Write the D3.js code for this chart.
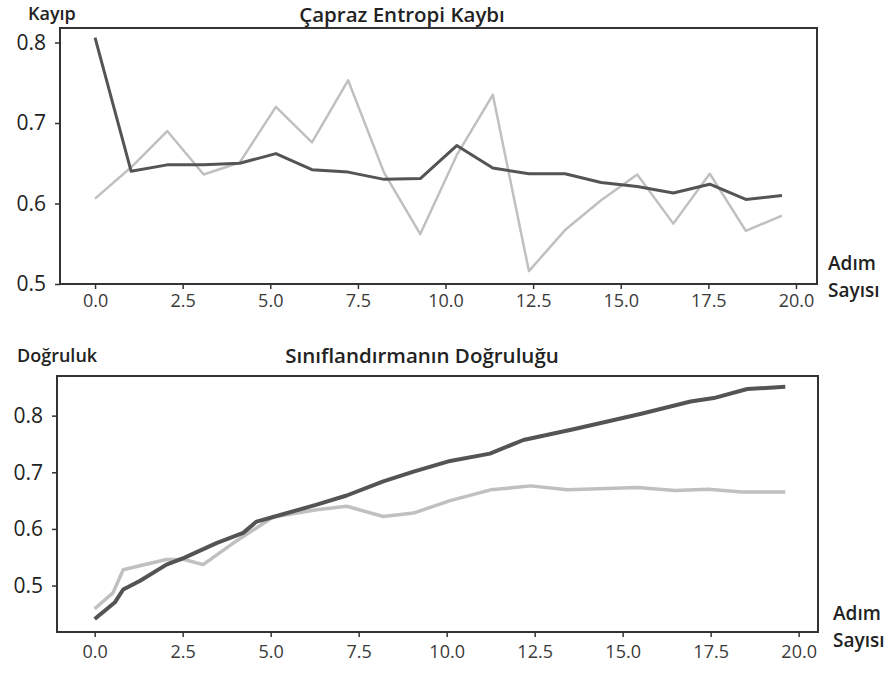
<!DOCTYPE html>
<html>
<head>
<meta charset="utf-8">
<script src="https://cdn.jsdelivr.net/npm/d3@7"></script>
<style>
  body { margin: 0; background: #fff; }
  text { font-family: "Open Sans", sans-serif; }
</style>
</head>
<body>
<svg id="chart" width="889" height="675"></svg>
<script>
// --- data ---
var lossSteps = [0, 1.03, 2.06, 3.1, 4.13, 5.16, 6.19, 7.22, 8.25, 9.28,
                 10.32, 11.35, 12.38, 13.41, 14.44, 15.47, 16.5, 17.54, 18.57, 19.6];
var lossDark  = [0.806, 0.640, 0.648, 0.648, 0.650, 0.662, 0.642, 0.639, 0.630, 0.631,
                 0.672, 0.644, 0.637, 0.637, 0.626, 0.621, 0.613, 0.624, 0.605, 0.610];
var lossLight = [0.606, 0.645, 0.690, 0.636, 0.651, 0.720, 0.676, 0.753, 0.638, 0.562,
                 0.660, 0.735, 0.516, 0.567, 0.604, 0.636, 0.575, 0.637, 0.566, 0.585];

var accStepsDark  = [0, 0.57, 0.81, 1.28, 2.04, 2.54, 3.46, 4.22, 4.6, 5.07, 6.31, 7.16,
                     8.2, 9.06, 10.1, 11.23, 12.18, 13.6, 15.5, 16.93, 17.59, 18.54, 19.62];
var accDark       = [0.441, 0.470, 0.493, 0.508, 0.537, 0.549, 0.575, 0.593, 0.613, 0.621, 0.643, 0.659,
                     0.684, 0.701, 0.720, 0.733, 0.757, 0.776, 0.803, 0.825, 0.831, 0.847, 0.851];
var accStepsLight = [0, 0.52, 0.81, 1.28, 2.04, 2.54, 3.08, 3.94, 4.8, 5.07, 6.31, 7.16,
                     8.2, 9.06, 10.1, 11.25, 12.39, 13.43, 15.43, 16.48, 17.43, 18.38, 19.62];
var accLight      = [0.459, 0.487, 0.528, 0.535, 0.546, 0.546, 0.537, 0.575, 0.610, 0.621, 0.634, 0.640,
                     0.622, 0.628, 0.650, 0.669, 0.676, 0.669, 0.673, 0.668, 0.670, 0.665, 0.665];

var xTicks = [0, 2.5, 5, 7.5, 10, 12.5, 15, 17.5, 20];
var yTicks = [0.5, 0.6, 0.7, 0.8];

var svg = d3.select("#chart");

function zip(xs, ys) {
  return xs.map(function (x, i) { return [x, ys[i]]; });
}

function panel(p) {
  var x = d3.scaleLinear().domain(p.xDomain).range([p.left, p.right]);
  var y = d3.scaleLinear().domain(p.yDomain).range([p.bottom, p.top]);
  var g = svg.append("g");

  var line = d3.line()
    .x(function (d) { return x(d[0]); })
    .y(function (d) { return y(d[1]); });

  // light series first, dark on top
  g.append("path")
    .datum(p.light)
    .attr("fill", "none")
    .attr("stroke", "#c0c0c0")
    .attr("stroke-width", p.lightWidth)
    .attr("stroke-linejoin", "round")
    .attr("d", line);
  g.append("path")
    .datum(p.dark)
    .attr("fill", "none")
    .attr("stroke", "#545454")
    .attr("stroke-width", p.darkWidth)
    .attr("stroke-linejoin", "round")
    .attr("d", line);

  var xAxis = g.append("g")
    .attr("transform", "translate(0," + p.bottom + ")")
    .call(d3.axisBottom(x).tickValues(xTicks).tickFormat(d3.format(".1f"))
      .tickSize(5).tickSizeOuter(0).tickPadding(p.xPad));
  xAxis.select(".domain").remove();
  xAxis.selectAll("line").attr("stroke", "#333").attr("stroke-width", 1.5);
  xAxis.selectAll("text").attr("font-size", 18).attr("fill", "#3a3a3a")
    .style("font-family", "'Open Sans', sans-serif");

  var yAxis = g.append("g")
    .attr("transform", "translate(" + p.left + ",0)")
    .call(d3.axisLeft(y).tickValues(yTicks).tickFormat(d3.format(".1f"))
      .tickSize(5).tickSizeOuter(0).tickPadding(9));
  yAxis.select(".domain").remove();
  yAxis.selectAll("line").attr("stroke", "#333").attr("stroke-width", 1.5);
  yAxis.selectAll("text").attr("font-size", 21).attr("fill", "#222")
    .style("font-family", "'Open Sans', sans-serif");

  // frame
  g.append("rect")
    .attr("x", p.left).attr("y", p.top)
    .attr("width", p.right - p.left).attr("height", p.bottom - p.top)
    .attr("fill", "none").attr("stroke", "#333").attr("stroke-width", 2);

  g.append("text")
    .attr("x", p.titleX).attr("y", p.titleY)
    .attr("text-anchor", "middle")
    .attr("font-size", 20.5).attr("font-weight", 600).attr("fill", "#222")
    .text(p.title);
  g.append("text")
    .attr("x", p.yLabelX).attr("y", p.labelY)
    .attr("font-size", 18).attr("font-weight", 600).attr("fill", "#222")
    .text(p.yLabel);
  g.append("text")
    .attr("x", p.right + p.unitDx).attr("y", p.bottom + p.unitDy)
    .attr("font-size", 19).attr("font-weight", 600).attr("fill", "#222")
    .text("Adım");
  g.append("text")
    .attr("x", p.right + p.unitDx).attr("y", p.bottom + p.unitDy + 27)
    .attr("font-size", 19).attr("font-weight", 600).attr("fill", "#222")
    .text("Sayısı");
}

panel({
  left: 60, right: 817, top: 28, bottom: 284,
  xDomain: [-1.0, 20.6], yDomain: [0.5, 0.818],
  dark: zip(lossSteps, lossDark), light: zip(lossSteps, lossLight),
  darkWidth: 3, lightWidth: 2.5, xPad: 5,
  title: "Çapraz Entropi Kaybı", titleX: 402, titleY: 22,
  yLabel: "Kayıp", yLabelX: 28, labelY: 20,
  unitDx: 11, unitDy: -14
});

panel({
  left: 57, right: 818, top: 376, bottom: 632,
  xDomain: [-1.07, 20.55], yDomain: [0.418, 0.87],
  dark: zip(accStepsDark, accDark), light: zip(accStepsLight, accLight),
  darkWidth: 4, lightWidth: 3.5, xPad: 8,
  title: "Sınıflandırmanın Doğruluğu", titleX: 422, titleY: 363,
  yLabel: "Doğruluk", yLabelX: 17, labelY: 362,
  unitDx: 15, unitDy: -12
});
</script>
</body>
</html>
